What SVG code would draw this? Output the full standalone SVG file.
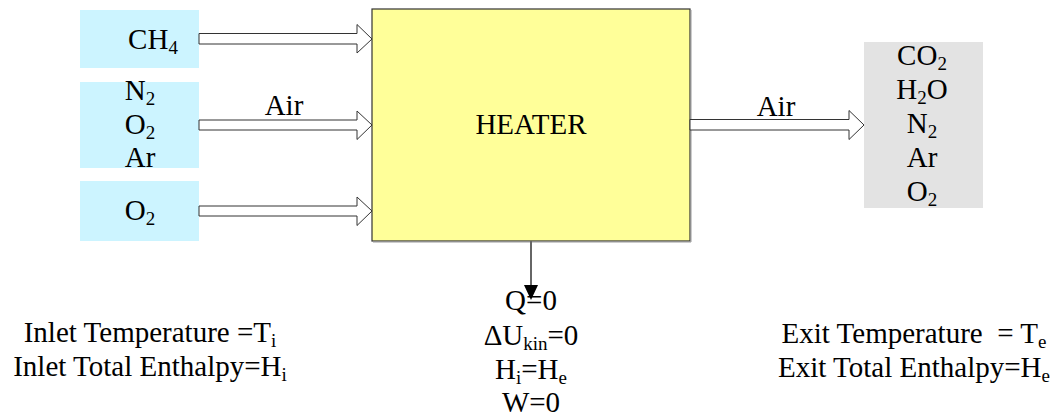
<svg xmlns="http://www.w3.org/2000/svg" width="1057" height="418" viewBox="0 0 1057 418">
<style>
text{font-family:'Liberation Serif','Tinos','Times New Roman',serif;font-size:29px;fill:#000;text-anchor:middle}
.sub{font-size:19px}
.in{fill:#CCF4FF}
.out{fill:#E3E3E3}
.blk{fill:#fff;stroke:#333;stroke-width:1}
</style>
<rect width="1057" height="418" fill="#fff"/>
<g id="heater">
<rect x="372" y="9" width="318" height="232" fill="#FFFF99" stroke="#333" stroke-width="1.2"/>
<line x1="373" y1="242" x2="691" y2="242" stroke="#999" stroke-width="1"/>
<line x1="691" y1="10" x2="691" y2="242" stroke="#999" stroke-width="1"/>
<text x="531" y="134">HEATER</text>
</g>
<g id="ch4">
<rect class="in" x="80" y="10" width="119" height="58"/>
<text x="153" y="49">CH<tspan class="sub" dy="5">4</tspan></text>
</g>
<g id="air-in">
<rect class="in" x="80" y="82" width="119" height="86"/>
<text x="140" y="100">N<tspan class="sub" dy="5">2</tspan></text>
<text x="140" y="134">O<tspan class="sub" dy="5">2</tspan></text>
<text x="140" y="167">Ar</text>
</g>
<g id="o2-in">
<rect class="in" x="80" y="181" width="119" height="60"/>
<text x="140" y="220">O<tspan class="sub" dy="5">2</tspan></text>
</g>
<g id="products">
<rect class="out" x="864" y="42" width="119" height="166"/>
<text x="922" y="65">CO<tspan class="sub" dy="5">2</tspan></text>
<text x="922" y="99">H<tspan class="sub" dy="5">2</tspan><tspan dy="-5">O</tspan></text>
<text x="922" y="133">N<tspan class="sub" dy="5">2</tspan></text>
<text x="922" y="167">Ar</text>
<text x="922" y="201">O<tspan class="sub" dy="5">2</tspan></text>
</g>
<g id="connectors">
<polygon class="blk" points="199,33.5 357,33.5 357,24.5 372,39 357,53 357,44 199,44"/>
<polygon class="blk" points="199,120 357,120 357,111 372,125 357,139.5 357,130 199,130"/>
<polygon class="blk" points="199,206 357,206 357,197 372,211 357,225.5 357,216 199,216"/>
<polygon class="blk" points="690,119.5 849,119.5 849,110.5 864,125 849,139.5 849,130 690,130"/>
<line x1="531" y1="241" x2="531" y2="286" stroke="#666" stroke-width="2"/>
<polygon points="524,285 538,285 531,300" fill="#000"/>
<text x="284" y="115">Air</text>
<text x="776" y="116">Air</text>
</g>
<g id="conditions">
<text x="531" y="310">Q=0</text>
<text x="531" y="345">ΔU<tspan class="sub" dy="5">kin</tspan><tspan dy="-5">=0</tspan></text>
<text x="531" y="379">H<tspan class="sub" dy="5">i</tspan><tspan dy="-5">=H</tspan><tspan class="sub" dy="5">e</tspan></text>
<text x="531" y="412">W=0</text>
</g>
<g id="inlet">
<text x="150" y="342">Inlet Temperature =T<tspan class="sub" dy="5">i</tspan></text>
<text x="150" y="376">Inlet Total Enthalpy=H<tspan class="sub" dy="5">i</tspan></text>
</g>
<g id="exit">
<text x="914" y="343">Exit Temperature &#160;= T<tspan class="sub" dy="5">e</tspan></text>
<text x="914" y="377">Exit Total Enthalpy=H<tspan class="sub" dy="5">e</tspan></text>
</g>
</svg>
